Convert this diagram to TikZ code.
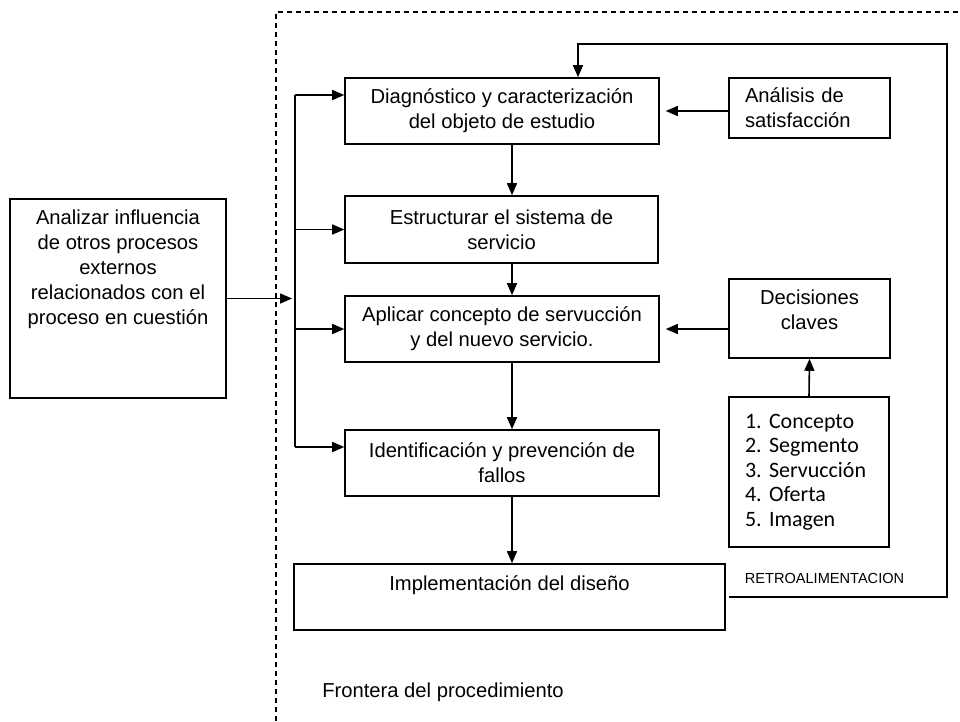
\documentclass[tikz,border=0pt]{standalone}
\usepackage{fontspec}
\setmainfont{Liberation Sans}
\newfontfamily\listfont{Carlito}
\usetikzlibrary{arrows.meta,positioning}

\begin{document}
\begin{tikzpicture}[x=0.02cm,y=-0.02cm,every node/.style={inner sep=0pt},
  box/.style={draw,line width=0.9pt,align=center},
  arr/.style={line width=0.9pt,-{Triangle[length=0.24cm,width=0.2cm]}},
  font=\fontsize{11.5}{14.2}\selectfont]
\useasboundingbox (0,0) rectangle (960,721);
% frontera
\draw[line width=0.7pt,dash pattern=on 0.1cm off 0.08cm] (276,721) -- (276,12) -- (960,12);
\node(frontera) at (443,692){Frontera del procedimiento};
% cajas
\node[box,minimum width=4.32cm,minimum height=3.98cm](ext) at (118,298.5){};
\node[align=center,below=0.22cm of ext.north](exttxt){Analizar influencia\\de otros procesos\\externos\\relacionados con el\\proceso en cuestión};
\node[box,minimum width=6.28cm,minimum height=1.32cm](diag) at (502,111){Diagnóstico y caracterización\\del objeto de estudio};
\node[box,minimum width=6.26cm,minimum height=1.34cm](estr) at (501.5,229.5){Estructurar el sistema de\\servicio};
\node[box,minimum width=6.28cm,minimum height=1.32cm](apli) at (502,329){Aplicar concepto de servucción\\y del nuevo servicio.};
\node[box,minimum width=6.28cm,minimum height=1.32cm](iden) at (502,463){Identificación y prevención de\\fallos};
\node[box,minimum width=8.62cm,minimum height=1.32cm](impl) at (509.5,597){};
\node[align=center,below=0.24cm of impl.north](impltxt){Implementación del diseño};
\node[box,align=left,text width=2.58cm,inner xsep=0.32cm,minimum height=1.2cm](anal) at (809.5,108){Análisis de\\satisfacción};
\node[box,minimum width=3.22cm,minimum height=1.58cm](deci) at (809.5,318.5){};
\node[align=center,below=0.22cm of deci.north](decitxt){Decisiones\\claves};
\node[box,align=left,text width=2.56cm,inner xsep=0.32cm,minimum height=3cm,font=\listfont\fontsize{12.5}{13.9}\selectfont\frenchspacing](lista) at (809,472){1. Concepto\\2. Segmento\\3. Servucción\\4. Oferta\\5. Imagen};
\node[font=\fontsize{8.3}{10}\selectfont](retro) at (824.5,578){RETROALIMENTACION};
% puntos de paso
\coordinate(busin) at (292,298.5);
\coordinate(bustop) at (295,95);
\coordinate(busbot) at (295,447);
\coordinate(midx) at (512,0);
\coordinate(fbx) at (578,44);
\coordinate(fbtop) at (947,44);
\coordinate(fbbot) at (947,597);
\coordinate(fbend) at (729,597);
% flechas
\draw[arr] (ext.east) -- (busin);
\draw[line width=0.9pt] (bustop) -- (busbot);
\draw[arr] (bustop) -- (bustop -| diag.west);
\draw[arr] (estr.west -| bustop) -- (estr.west);
\draw[arr] (apli.west -| bustop) -- (apli.west);
\draw[arr] (busbot) -- (busbot -| iden.west);
\draw[arr] (diag.south -| midx) -- (estr.north -| midx);
\draw[arr] (estr.south -| midx) -- (apli.north -| midx);
\draw[arr] (apli.south -| midx) -- (iden.north -| midx);
\draw[arr] (iden.south -| midx) -- (impl.north -| midx);
\draw[arr,shorten >=0.12cm] (diag.east -| anal.west) -- (diag.east);
\draw[arr,shorten >=0.12cm] (apli.east -| deci.west) -- (apli.east);
\draw[arr] (lista.north) -- (deci.south);
\draw[arr] (fbend) -- (fbbot) -- (fbtop) -- (fbx) -- (fbx |- diag.north);
\end{tikzpicture}
\end{document}
